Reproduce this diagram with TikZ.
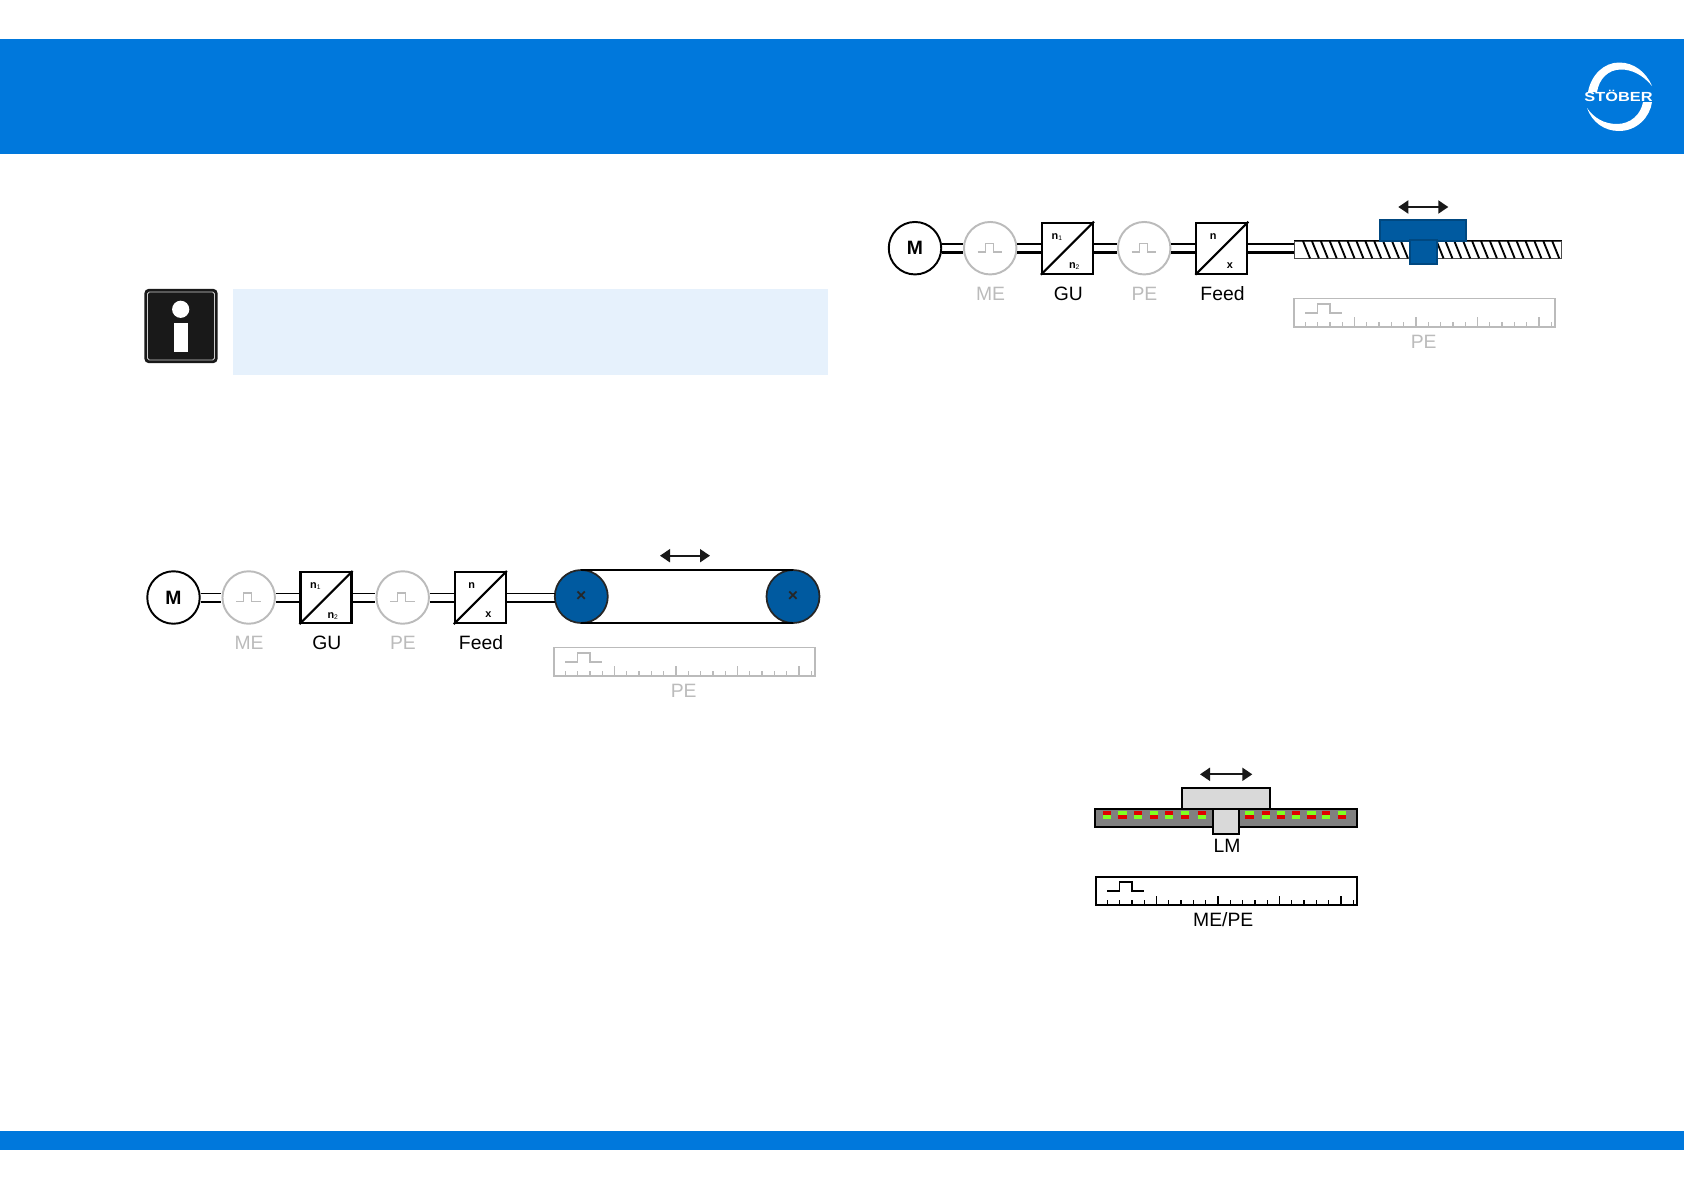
\documentclass[tikz,border=0pt]{standalone}
\usepackage{fontspec}
\usepackage{graphicx}
\setmainfont{Liberation Sans}
\usetikzlibrary{arrows.meta}
\definecolor{headblue}{HTML}{0078DC}
\definecolor{notetint}{HTML}{E6F1FC}
\definecolor{partblue}{HTML}{005AA0}
\definecolor{faded}{HTML}{BBBBBB}
\definecolor{bandgray}{HTML}{808080}
\definecolor{slidegray}{HTML}{D9D9D9}
\definecolor{magred}{HTML}{E00000}
\definecolor{maggreen}{HTML}{80FF20}
\tikzset{
  motor/.style={circle, draw=black, line width=1.1pt, fill=white, minimum size=1.05cm, inner sep=0pt, font=\bfseries\fontsize{11}{11}\selectfont},
  encoder/.style={circle, draw=faded, line width=1.1pt, fill=white, minimum size=1.05cm, inner sep=0pt},
  convbox/.style={rectangle, draw=black, line width=1.2pt, fill=white, minimum size=1.02cm, inner sep=0pt},
  pulley/.style={circle, draw=black!85, line width=1pt, fill=partblue, minimum size=1.06cm, inner sep=0pt, outer sep=0pt, text=black!85, font=\bfseries\fontsize{10}{10}\selectfont},
  tag/.style={inner sep=0pt, font=\fontsize{11}{11}\selectfont},
  small/.style={inner sep=0pt, font=\bfseries\fontsize{6.2}{6.2}\selectfont},
  thinshaft/.style={line width=0.8pt},
  fatshaft/.style={line width=1.2pt},
  pulseline/.style={line width=0.8pt, draw=faded},
  part/.style={rectangle, draw=#1, line width=1.1pt, inner sep=0pt},
  rulerbox/.style={rectangle, line width=0.9pt, fill=white, minimum width=5.23cm, minimum height=0.57cm, inner sep=0pt},
  move/.style={{Triangle[length=0.2cm,width=0.26cm]}-{Triangle[length=0.2cm,width=0.26cm]}, line width=1.1pt, black!90},
}
\newcommand{\subn}[1]{\textbf{n}\raisebox{-0.5pt}{\fontsize{3.8}{3.8}\selectfont\mdseries #1}}
\begin{document}
\begin{tikzpicture}[x=0.02cm, y=-0.02cm]
  \useasboundingbox (0,0) rectangle (1684,1190);

  % --- bands ---
  \fill[headblue] (0,39) rectangle (1684,154);
  \fill[headblue] (0,1131) rectangle (1684,1150);

  % --- logo ---
  \fill[white] (1588,92) .. controls (1591,75) and (1604,62.5) .. (1619,62.5) .. controls (1634,62.5) and (1646,72) .. (1652,86)
    .. controls (1643,75) and (1632,69.5) .. (1621,69.5) .. controls (1608,69.5) and (1599,79) .. (1597,92) -- cycle;
  \fill[white] (1587,108) .. controls (1592,122) and (1604,131) .. (1619,131) .. controls (1637,131) and (1650,117) .. (1652,102)
    -- (1643,102) .. controls (1641,114) and (1631,124) .. (1617,124) .. controls (1604,124) and (1594,118) .. (1587,108) -- cycle;
  \node[inner sep=0pt, text=white, font=\bfseries\fontsize{7.5}{7.5}\selectfont] (brand) at (1618.5,96) {\scalebox{1.24}[1]{STÖBER}};

  % --- note ---
  \fill[notetint] (233,289) rectangle (828,375);
  \node[rectangle, rounded corners=2pt, draw=black!90, fill=black!90, line width=0.6pt, minimum width=1.44cm, minimum height=1.46cm] (info) at (181,326) {};
  \draw[white!80!black, line width=0.5pt, rounded corners=1pt] (147.5,292) rectangle (214.5,360);
  \fill[white] (180.7,309.3) circle (8.6);
  \fill[white] (174.3,322.7) rectangle (188,352);

  % --- drive chains ---
  \foreach \id/\dx/\dy in {a/0/0, b/741.5/-349.3} {
    \begin{scope}[shift={(\dx,\dy)}]
      \node[motor] (m\id) at (173.5,597.5) {M};
      \node[encoder] (me\id) at (248.7,597.5) {};
      \node[convbox] (gu\id) at (326,597.5) {};
      \node[encoder] (pe\id) at (402.7,597.5) {};
      \node[convbox] (feed\id) at (480.3,597.5) {};
      \draw[line width=1.2pt] (gu\id.south west) -- (gu\id.north east);
      \draw[line width=1.2pt] (feed\id.south west) -- (feed\id.north east);
      \node[small] (nin\id) at (315.3,586) {\subn{1}};
      \node[small] (nout\id) at (332.7,615.7) {\subn{2}};
      \node[small] (nfeed\id) at (471.7,585.7) {n};
      \node[small] (xfeed\id) at (488.3,615) {x};
      \node[tag, text=faded] (melabel\id) at (249,642.7) {ME};
      \node[tag] (gulabel\id) at (326.8,642.7) {GU};
      \node[tag, text=faded] (pelabel\id) at (402.9,642.7) {PE};
      \node[tag] (feedlabel\id) at (481,642.7) {Feed};
    \end{scope}
    \foreach \from/\to in {m/me, me/gu, gu/pe, pe/feed} {
      \draw[thinshaft] ([yshift=0.086cm]\from\id.east) -- ([yshift=0.086cm]\to\id.west);
      \draw[fatshaft] ([yshift=-0.086cm]\from\id.east) -- ([yshift=-0.086cm]\to\id.west);
    }
    \foreach \enc in {me, pe} {
      \draw[pulseline] ([shift={(-12.5,4)}]\enc\id.center) -- ++(7.5,0) -- ++(0,-8.5) -- ++(8,0) -- ++(0,8.5) -- ++(9,0);
    }
  }

  % --- belt ---
  \node[pulley] (pulleyl) at (581.3,596.5) {×};
  \node[pulley] (pulleyr) at (793,596.5) {×};
  \draw[line width=1.1pt] (pulleyl.north) -- (pulleyr.north);
  \draw[line width=1.1pt] (pulleyl.south) -- (pulleyr.south);
  \draw[thinshaft] ([yshift=0.086cm]feeda.east) -- ([yshift=0.086cm]feeda.east -| pulleyl.west);
  \draw[fatshaft] ([yshift=-0.086cm]feeda.east) -- ([yshift=-0.086cm]feeda.east -| pulleyl.west);
  \coordinate (beltl) at (660,555.7);
  \coordinate (beltr) at (710,555.7);
  \draw[move] (beltl) -- (beltr);

  % --- screw ---
  \node[rectangle, draw=black!70, line width=0.6pt, inner sep=0pt, fill=white, minimum width=5.35cm, minimum height=0.346cm] (screw) at (1428,249.7) {};
  \foreach \x in {1303,1311.9,...,1553} {
    \draw[line width=1.05pt] (\x,241) -- ++(7,17.3);
  }
  \draw[line width=1.1pt] (screw.north west) -- (screw.north east);
  \draw[thinshaft] ([yshift=0.086cm]feedb.east) -- ([yshift=0.086cm]feedb.east -| screw.west);
  \draw[fatshaft] ([yshift=-0.086cm]feedb.east) -- ([yshift=-0.086cm]feedb.east -| screw.west);
  \node[part=partblue!80!black, fill=partblue, minimum width=1.72cm, minimum height=0.42cm] (nut) at (1423,230.2) {};
  \node[part=partblue!80!black, fill=partblue, minimum width=0.53cm, minimum height=0.47cm] (nutfoot) at (1423.3,252.2) {};
  \coordinate (nutl) at (1398.3,207);
  \coordinate (nutr) at (1448.3,207);
  \draw[move] (nutl) -- (nutr);

  % --- rulers ---
  \foreach \id/\cx/\cy/\col in {r1/684.5/661.8/faded, r2/1424.5/312.8/faded, r3/1226.5/891/black} {
    \node[rulerbox, draw=\col] (ruler\id) at (\cx,\cy) {};
    \draw[\col, line width=0.9pt] ([shift={(12.3,15.3)}]ruler\id.north west) -- ++(12.3,0) -- ++(0,-9.3) -- ++(12.4,0) -- ++(0,9.3) -- ++(12,0);
    \foreach \n in {0,...,20} {
      \pgfmathsetmacro\ticklen{mod(\n,5)==4 ? 10.5 : 6}
      \draw[\col, line width=0.7pt] ([xshift={(12.3+\n*12.3)*0.02cm}]ruler\id.south west) -- ++(0,-\ticklen);
    }
  }
  \node[tag, text=faded] (pelabelr1) at (683.7,690.7) {PE};
  \node[tag, text=faded] (pelabelr2) at (1423.7,342) {PE};
  \node[tag] (mepelabel) at (1223.3,920) {ME/PE};

  % --- linear motor ---
  \node[part=black, fill=bandgray, minimum width=5.25cm, minimum height=0.346cm] (band) at (1226,818) {};
  \foreach \x in {1107,1138.3,1169.3,1202,1265.7,1296,1326.3} {
    \fill[magred] (\x-4,810.7) rectangle (\x+4,815);
    \fill[maggreen] (\x-4,815) rectangle (\x+4,819.3);
  }
  \foreach \x in {1122.3,1154,1185,1249.3,1281,1311.3,1342} {
    \fill[maggreen] (\x-4.3,810.7) rectangle (\x+4.3,815);
    \fill[magred] (\x-4.3,815) rectangle (\x+4.3,819.3);
  }
  \node[part=black, fill=slidegray, minimum width=1.77cm, minimum height=0.426cm] (slide) at (1225.8,798.7) {};
  \node[part=black, fill=slidegray, minimum width=0.526cm, minimum height=0.494cm] (slidefoot) at (1225.9,821.7) {};
  \node[tag] (lmlabel) at (1227,846) {LM};
  \coordinate (slidel) at (1200,774.3);
  \coordinate (slider) at (1252.3,774.3);
  \draw[move] (slidel) -- (slider);

\end{tikzpicture}
\end{document}
